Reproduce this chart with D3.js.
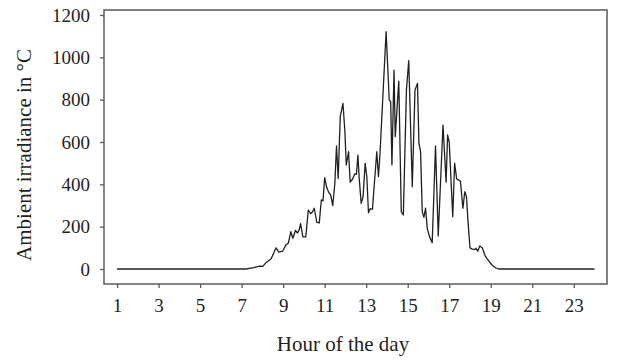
<!DOCTYPE html>
<html>
<head>
<meta charset="utf-8">
<script src="https://cdn.jsdelivr.net/npm/d3@7"></script>
<style>
  html, body { margin: 0; padding: 0; background: #fff; }
  svg { display: block; }
  text { font-family: "Liberation Serif", "Times New Roman", serif; fill: #231f20; }
</style>
</head>
<body>
<svg id="chart" width="619" height="361"></svg>
<script>
// Hour of day (decimal) and ambient irradiance readings
const hours = [
  1, 7.19, 7.53, 7.86, 8.02, 8.15, 8.42, 8.66, 8.79, 8.98,
  9.14, 9.25, 9.37, 9.47, 9.59, 9.69, 9.77, 9.84, 9.95, 10.09,
  10.21, 10.33, 10.40, 10.50, 10.62, 10.74, 10.84, 10.92, 11.00, 11.10,
  11.20, 11.29, 11.39, 11.49, 11.57, 11.65, 11.75, 11.88, 11.97, 12.04,
  12.15, 12.23, 12.34, 12.45, 12.53, 12.60, 12.67, 12.76, 12.85, 12.95,
  13.03, 13.11, 13.19, 13.30, 13.51, 13.59, 13.67, 13.96, 14.11, 14.18,
  14.24, 14.34, 14.40, 14.57, 14.69, 14.79, 14.94, 15.05, 15.22, 15.35,
  15.47, 15.54, 15.62, 15.70, 15.78, 15.86, 15.94, 16.05, 16.18, 16.34,
  16.47, 16.70, 16.85, 16.92, 17.00, 17.17, 17.26, 17.36, 17.54, 17.66,
  17.75, 17.83, 17.90, 18.00, 18.11, 18.23, 18.29, 18.37, 18.47, 18.59,
  18.73, 18.83, 19.06, 19.23, 19.38, 24
];
const irradiance = [
  0, 0, 5, 14, 12, 28, 48, 100, 80, 85,
  115, 122, 176, 145, 182, 170, 185, 214, 152, 152,
  278, 262, 268, 287, 220, 218, 327, 322, 432, 385,
  360, 350, 300, 405, 581, 428, 720, 783, 657, 491,
  554, 410, 424, 449, 447, 538, 420, 310, 342, 499,
  436, 266, 285, 282, 554, 436, 554, 1121, 798, 790,
  491, 940, 625, 888, 271, 255, 850, 984, 389, 845,
  877, 594, 554, 271, 244, 287, 192, 153, 124, 581,
  156, 680, 410, 633, 600, 247, 500, 425, 415, 287,
  365, 342, 231, 100, 94, 92, 98, 84, 109, 100,
  62, 48, 19, 6, 0, 0
];
const xTicks = [1, 3, 5, 7, 9, 11, 13, 15, 17, 19, 21, 23];
const yTicks = [0, 200, 400, 600, 800, 1000, 1200];

const svg = d3.select("#chart");
const frame = { left: 104, right: 607, top: 10, bottom: 284 };

const x = d3.scaleLinear().domain([0.37, 24.6]).range([frame.left, frame.right]);
const y = d3.scaleLinear().domain([0, 1200]).range([269, 15]);

// plot frame
svg.append("rect")
  .attr("x", frame.left).attr("y", frame.top)
  .attr("width", frame.right - frame.left)
  .attr("height", frame.bottom - frame.top)
  .attr("fill", "none").attr("stroke", "#5a5a5a").attr("stroke-width", 1.5);

// axes
const xAxis = svg.append("g")
  .attr("transform", `translate(0,${frame.bottom})`)
  .call(d3.axisBottom(x).tickValues(xTicks).tickFormat(d3.format("d"))
    .tickSize(4).tickPadding(11).tickSizeOuter(0));
const yAxis = svg.append("g")
  .attr("transform", `translate(${frame.left},0)`)
  .call(d3.axisLeft(y).tickValues(yTicks).tickFormat(d3.format("d"))
    .tickSize(4).tickPadding(10).tickSizeOuter(0));

[xAxis, yAxis].forEach(g => {
  g.select(".domain").remove();
  g.selectAll(".tick line").attr("stroke", "#5a5a5a").attr("stroke-width", 1.3);
  g.selectAll(".tick text").attr("font-size", 19).attr("fill", "#231f20")
    .style("font-family", "'Liberation Serif', serif");
});

// irradiance trace
const line = d3.line()
  .x((d, i) => x(hours[i]))
  .y(d => y(d));
svg.append("path")
  .datum(irradiance)
  .attr("d", line)
  .attr("fill", "none")
  .attr("stroke", "#231f20")
  .attr("stroke-width", 1.3)
  .attr("stroke-linejoin", "round");

// axis titles
svg.append("text")
  .attr("x", 343).attr("y", 351)
  .attr("text-anchor", "middle")
  .attr("font-size", 21)
  .text("Hour of the day");
svg.append("text")
  .attr("transform", "translate(31,155) rotate(-90)")
  .attr("text-anchor", "middle")
  .attr("font-size", 21)
  .text("Ambient irradiance in °C");
</script>
</body>
</html>
